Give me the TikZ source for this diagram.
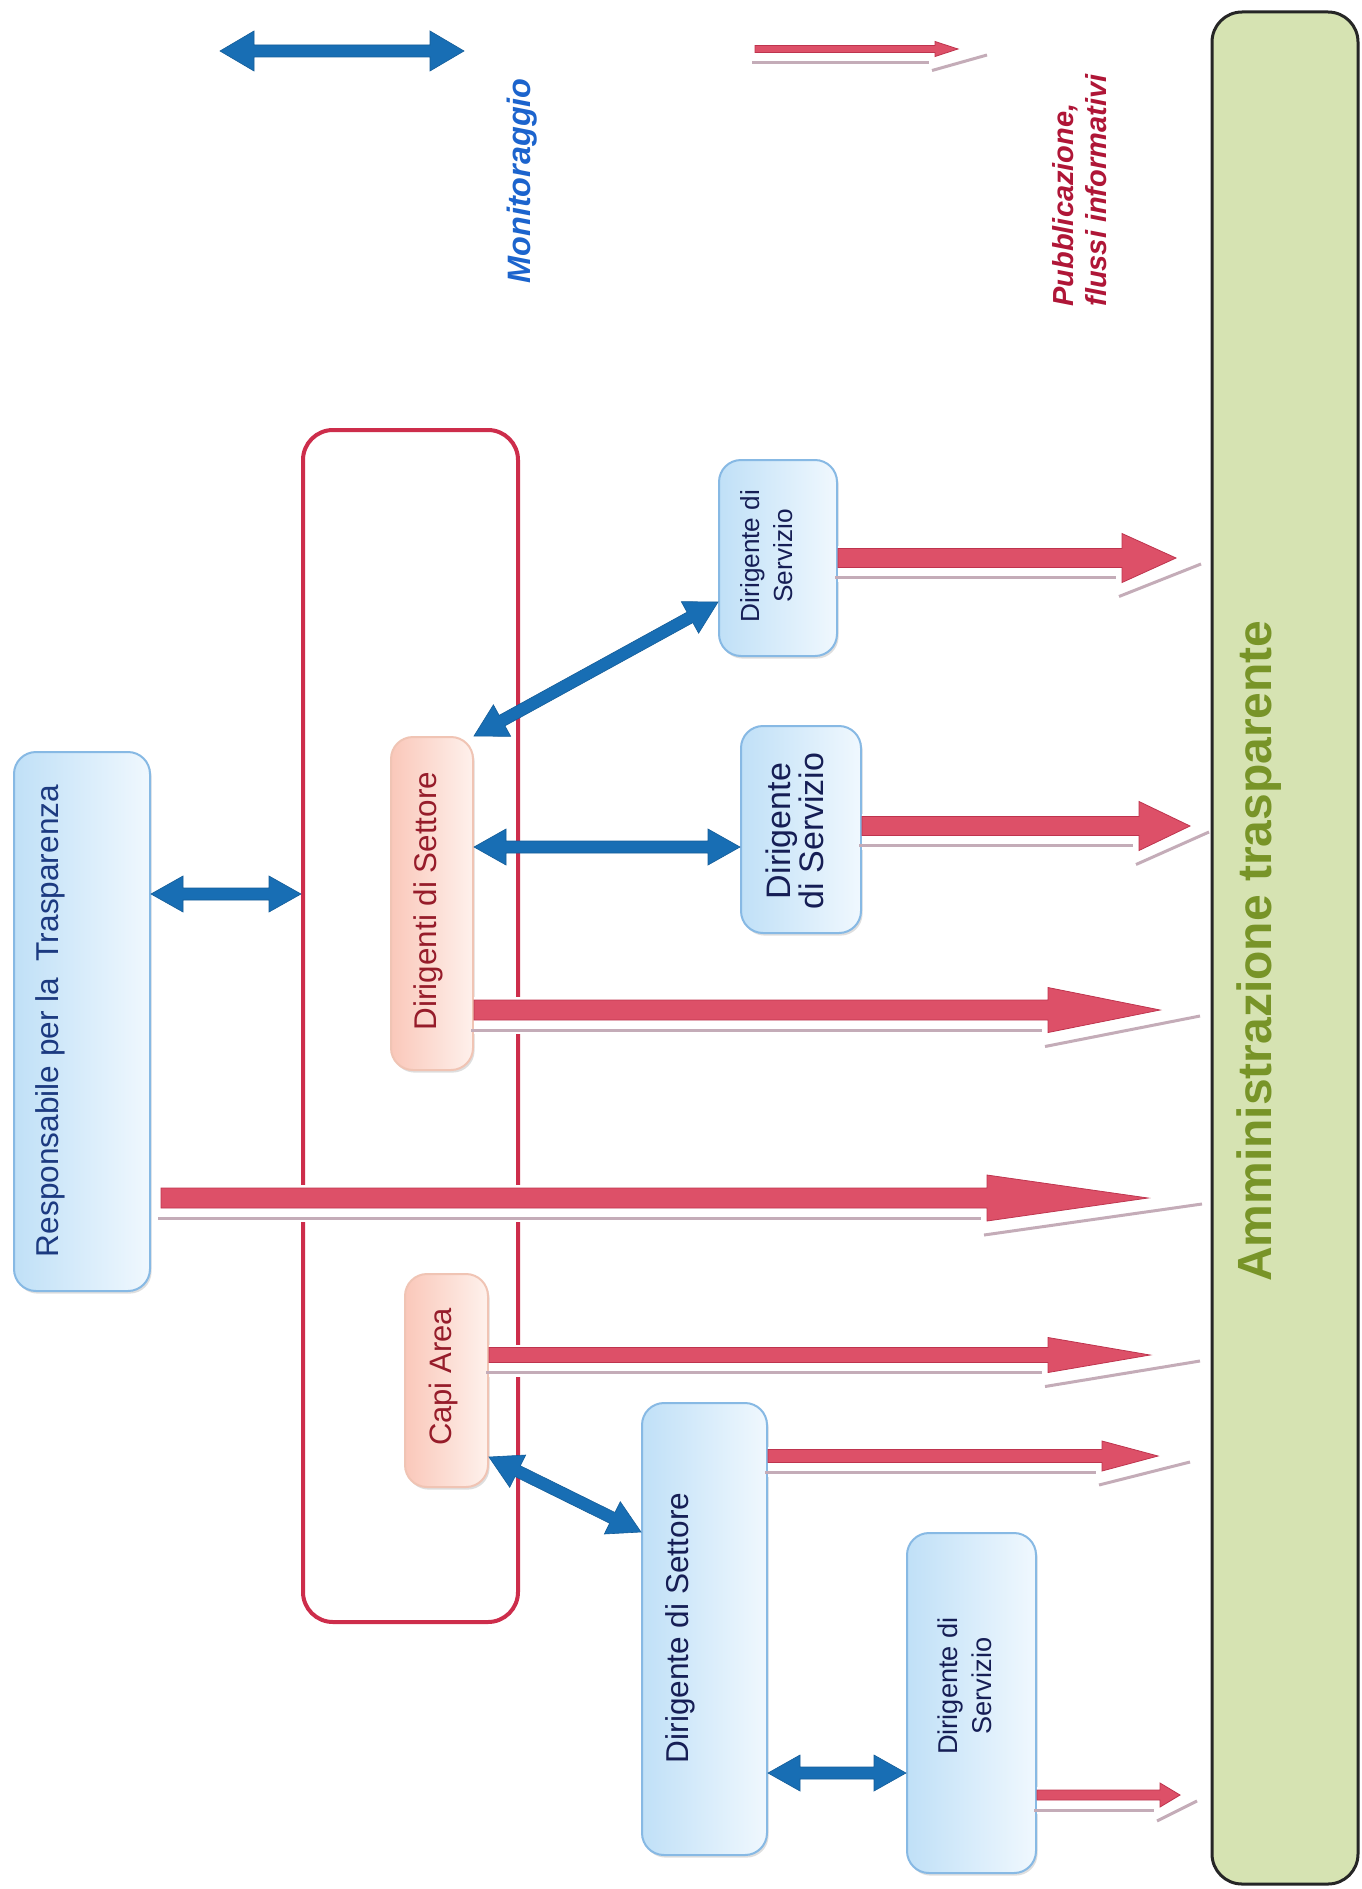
\documentclass[tikz,border=0pt]{standalone}
\usepackage{fontspec}
\setmainfont{Liberation Sans}
\usetikzlibrary{calc,shadows}

\definecolor{monblue}{RGB}{24,110,180}
\definecolor{pubred}{RGB}{221,80,104}
\definecolor{pubreddark}{RGB}{190,52,78}
\definecolor{pubshadow}{RGB}{196,172,184}
\definecolor{framered}{RGB}{205,45,75}
\definecolor{bluefillL}{RGB}{192,224,247}
\definecolor{bluefillR}{RGB}{240,248,254}
\definecolor{blueedge}{RGB}{135,185,228}
\definecolor{pinkfillL}{RGB}{250,200,186}
\definecolor{pinkfillR}{RGB}{254,241,236}
\definecolor{pinkedge}{RGB}{240,196,180}
\definecolor{greenfill}{RGB}{214,227,178}
\definecolor{greentext}{RGB}{120,148,40}
\definecolor{navytext}{RGB}{28,58,128}
\definecolor{darkred}{RGB}{150,28,42}
\definecolor{servtext}{RGB}{22,30,85}
\definecolor{legblue}{RGB}{28,100,205}
\definecolor{legred}{RGB}{175,22,55}

\tikzset{
  box/.style={rounded corners=11pt, line width=1pt, inner sep=0pt,
    drop shadow={shadow xshift=0.8pt, shadow yshift=-1.3pt, fill=black, opacity=0.13}},
  bluebox/.style={box, draw=blueedge, left color=bluefillL, right color=bluefillR},
  pinkbox/.style={box, draw=pinkedge, left color=pinkfillL, right color=pinkfillR},
  lbl/.style={rotate=90, align=center, inner sep=0pt},
  pubbar/.style={fill=pubred, draw=pubreddark, line width=0.4pt, line join=miter},
  pubrim/.style={draw=pubshadow, line width=1.5pt},
  monfill/.style={fill=monblue, draw=monblue!85!black, line width=0.3pt, line join=miter},
}

% two-headed monitoring arrow: ends #1 and #2, head length #3, head half-width #4, shaft half-width #5
\newcommand\monflow[5]{%
  \filldraw[monfill] (#1)
    -- ($(#1)!#3!(#2)!#4!90:(#2)$) -- ($(#1)!#3!(#2)!#5!90:(#2)$)
    -- ($(#2)!#3!(#1)!#5!-90:(#1)$) -- ($(#2)!#3!(#1)!#4!-90:(#1)$)
    -- (#2)
    -- ($(#2)!#3!(#1)!#4!90:(#1)$) -- ($(#2)!#3!(#1)!#5!90:(#1)$)
    -- ($(#1)!#3!(#2)!#5!-90:(#2)$) -- ($(#1)!#3!(#2)!#4!-90:(#2)$)
    -- cycle;}

% publication arrow from #1 to tip #2: shaft #3, head length #4, head width #5, rim reach past tip #6
\newcommand\pubflow[6]{%
  \fill[white] ($(#1)+(0,{-#3/2-3})$) rectangle ($(#2)+({-#4},{#3/2+14})$);
  \draw[pubrim] ($(#1)+(-3,{#3/2+10})$) -- ($(#2)+({-#4-6},{#3/2+10})$);
  \draw[pubrim] ($(#2)+({-#4-3},{#5/2+14})$) -- ($(#2)+({#6},6)$);
  \filldraw[pubbar] ($(#1)+(0,{-#3/2})$) -- ($(#2)+({-#4},{-#3/2})$)
    -- ($(#2)+({-#4},{-#5/2})$) -- (#2) -- ($(#2)+({-#4},{#5/2})$)
    -- ($(#2)+({-#4},{#3/2})$) -- ($(#1)+(0,{#3/2})$) -- cycle;}

\begin{document}
\begin{tikzpicture}[x=0.5pt,y=-0.5pt]
\useasboundingbox (0,0) rectangle (1361,1889);
\fill[white] (0,0) rectangle (1361,1889);

% group frame and boxes
\node[draw=framered, line width=2pt, rounded corners=15pt, minimum width=107.5pt, minimum height=596pt, inner sep=0pt] (grp) at (410.5,1026) {};
\node[bluebox, minimum width=68pt, minimum height=269.5pt] (resp) at (82,1021.5) {};
\node[pinkbox, minimum width=41pt, minimum height=166.5pt] (dset) at (432,903.5) {};
\node[pinkbox, minimum width=41.5pt, minimum height=106.5pt] (capi) at (446.5,1380.5) {};
\node[bluebox, minimum width=59pt, minimum height=98pt] (serv1) at (778,558) {};
\node[bluebox, minimum width=60pt, minimum height=103.5pt] (serv2) at (801,829.5) {};
\node[bluebox, minimum width=62.5pt, minimum height=226pt] (sett) at (704.5,1629) {};
\node[bluebox, minimum width=64.5pt, minimum height=170pt] (serv3) at (971.5,1703) {};
\node[draw=black!85, line width=1.5pt, fill=greenfill, rounded corners=15pt, minimum width=73pt, minimum height=936pt, inner sep=0pt] (amm) at (1285,948) {};

% texts
\node[lbl, text=navytext, font=\fontsize{15.8}{18}\selectfont] (resp-t) at (50,1021) {Responsabile per la\hspace{0.25em} Trasparenza};
\node[lbl, text=darkred, font=\fontsize{15.7}{18}\selectfont] (dset-t) at (428,901) {Dirigenti di Settore};
\node[lbl, text=darkred, font=\fontsize{15.5}{18}\selectfont] (capi-t) at (443,1377) {Capi Area};
\node[lbl, text=servtext, font=\fontsize{13.1}{16.5}\selectfont] (serv1-t) at (767,556) {Dirigente di\\Servizio};
\node[lbl, text=servtext, font=\fontsize{17}{16.5}\selectfont] (serv2-t) at (795,831) {Dirigente\\di Servizio};
\node[lbl, text=servtext, font=\fontsize{15.8}{18}\selectfont] (sett-t) at (680,1628) {Dirigente di Settore};
\node[lbl, text=servtext, font=\fontsize{13.6}{17}\selectfont] (serv3-t) at (965,1686) {Dirigente di\\Servizio};
\node[lbl, text=greentext, font=\fontsize{24}{28}\selectfont\bfseries] (amm-t) at (1259,951) {Amministrazione trasparente};
\node[lbl, text=legblue, font=\fontsize{16.2}{19}\selectfont\bfseries\itshape] (mon-t) at (522,181) {Monitoraggio};
\node[lbl, anchor=west, align=left, text=legred, font=\fontsize{14.5}{16.5}\selectfont\bfseries\itshape] (pub-t) at (1080,307) {Pubblicazione,\\flussi informativi};

% anchor points for connectors
\coordinate (y894) at (0,894);
\coordinate (y602) at (0,602);
\coordinate (y847) at (0,847);
\coordinate (y1457) at (0,1457);
\coordinate (y1532) at (0,1532);
\coordinate (y1773) at (0,1773);

% legend arrows
\coordinate (leg-ma) at (220,51);
\coordinate (leg-mb) at (464,51);
\monflow{leg-ma}{leg-mb}{17pt}{10pt}{3pt}
\coordinate (leg-pa) at (755,49);
\coordinate (leg-pb) at (958,49);
\pubflow{leg-pa}{leg-pb}{7}{23}{15}{29}

% monitoring links
\coordinate (m1a) at (resp.east |- y894);
\coordinate (m1b) at (grp.west |- y894);
\monflow{m1a}{m1b}{16pt}{9pt}{3pt}
\coordinate (m2a) at (dset.north east);
\coordinate (m2b) at (serv1.west |- y602);
\monflow{m2a}{m2b}{16pt}{9pt}{3pt}
\coordinate (m3a) at (dset.east |- y847);
\coordinate (m3b) at (serv2.west |- y847);
\monflow{m3a}{m3b}{16pt}{9pt}{3pt}
\coordinate (m4a) at (capi.east |- y1457);
\coordinate (m4b) at (sett.west |- y1532);
\monflow{m4a}{m4b}{16pt}{9pt}{3pt}
\coordinate (m5a) at (sett.east |- y1773);
\coordinate (m5b) at (serv3.west |- y1773);
\monflow{m5a}{m5b}{16pt}{9pt}{3pt}

% publication flows
\coordinate (p1-tip) at (1176,558);
\coordinate (p1-out) at (serv1.east |- p1-tip);
\pubflow{p1-out}{p1-tip}{19}{54}{49}{25}
\coordinate (p2-tip) at (1190,826);
\coordinate (p2-out) at (serv2.east |- p2-tip);
\pubflow{p2-out}{p2-tip}{19}{51}{49}{19}
\coordinate (p3-tip) at (1160,1010);
\coordinate (p3-out) at (dset.east |- p3-tip);
\pubflow{p3-out}{p3-tip}{20}{112}{45}{40}
\coordinate (p4-tip) at (1148,1198);
\coordinate (p4-out) at ($(resp.east |- p4-tip)+(10,0)$);
\pubflow{p4-out}{p4-tip}{20}{161}{46}{54}
\coordinate (p5-tip) at (1150,1355);
\coordinate (p5-out) at (capi.east |- p5-tip);
\pubflow{p5-out}{p5-tip}{15}{102}{35}{50}
\coordinate (p6-tip) at (1158,1456);
\coordinate (p6-out) at (sett.east |- p6-tip);
\pubflow{p6-out}{p6-tip}{13}{56}{30}{32}
\coordinate (p7-tip) at (1180,1795);
\coordinate (p7-out) at (serv3.east |- p7-tip);
\pubflow{p7-out}{p7-tip}{10}{20}{24}{17}
\end{tikzpicture}
\end{document}
